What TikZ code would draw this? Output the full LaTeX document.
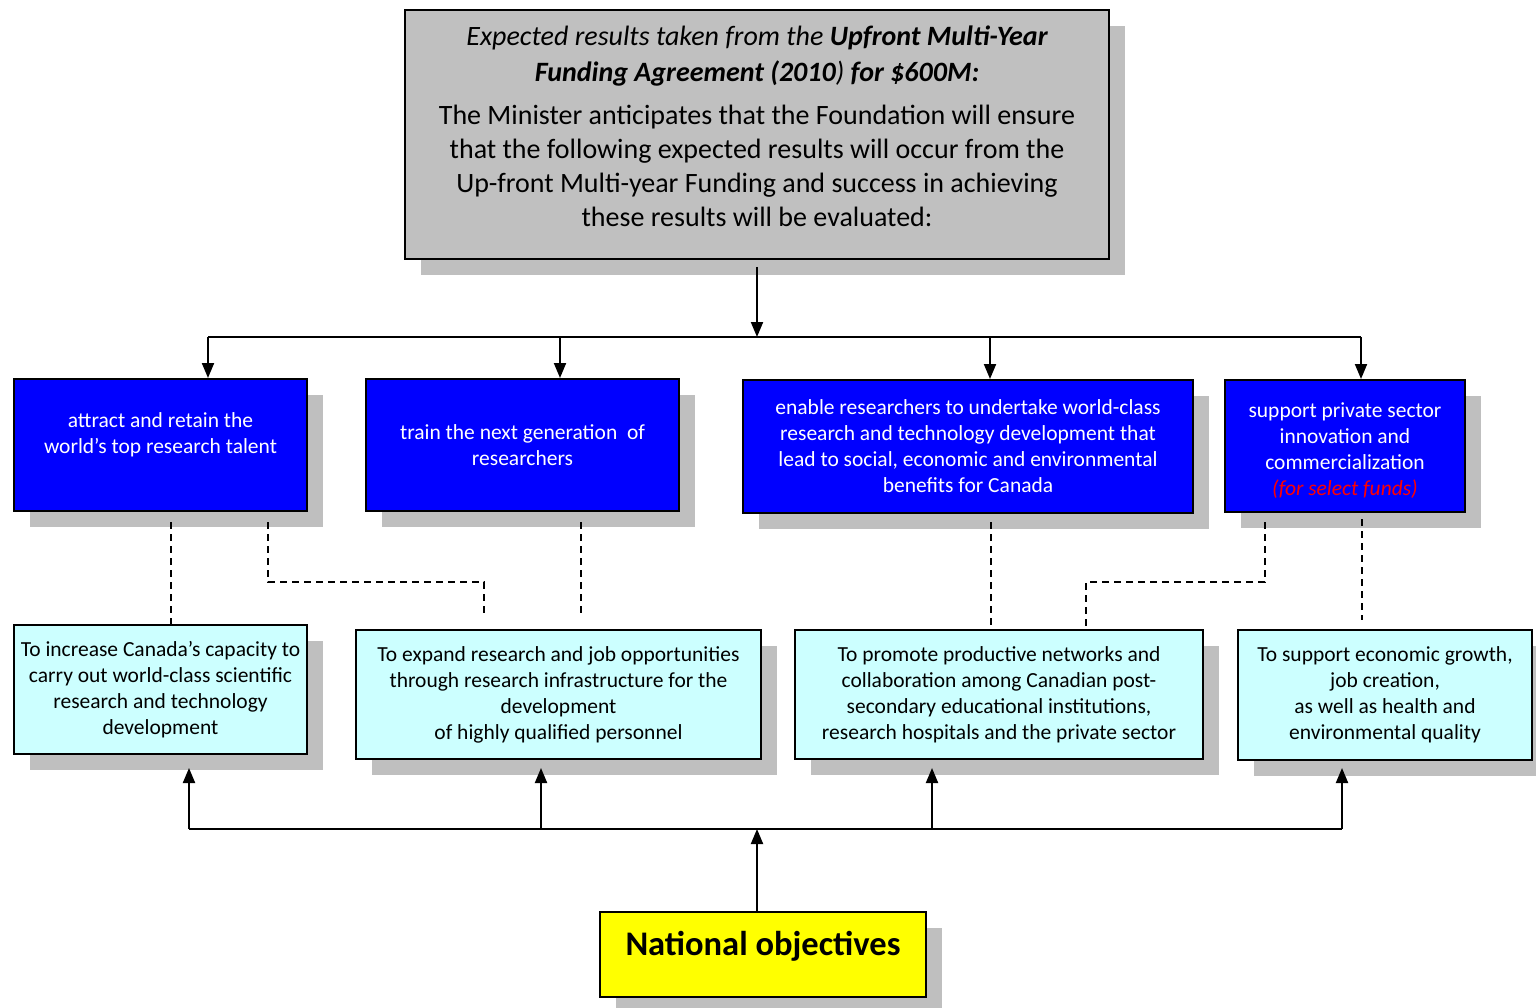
\documentclass[tikz,border=0pt]{standalone}
\usepackage{fontspec}
\setmainfont{Carlito}
\usetikzlibrary{arrows.meta,shadows}

\definecolor{boxgray}{HTML}{C0C0C0}
\definecolor{shadowgray}{HTML}{BFBFBF}
\definecolor{goalblue}{HTML}{0000FF}
\definecolor{aimcyan}{HTML}{CCFFFF}
\definecolor{natyellow}{HTML}{FFFF00}

\newcommand{\lowdepth}[1]{\rule[-#1]{0pt}{#1}}

\tikzset{
  box/.style={draw=black, line width=2pt, anchor=north west, align=center, inner sep=0pt,
    drop shadow={shadow xshift=16pt, shadow yshift=-16pt, fill=shadowgray, opacity=1}},
  topbox/.style={box, fill=boxgray, font=\fontsize{28}{34}\selectfont},
  goalbox/.style={box, fill=goalblue, text=white, font=\fontsize{21.5}{26}\selectfont},
  aimbox/.style={box, fill=aimcyan, font=\fontsize{21.5}{26}\selectfont},
  natbox/.style={box, fill=natyellow, font=\fontsize{34.5}{40}\selectfont\bfseries},
  feed/.style={line width=2pt, -{Triangle[length=15pt,width=12pt]}},
  bus/.style={line width=2pt},
  link/.style={line width=1.5pt, dash pattern=on 7pt off 5pt},
}

\begin{document}
\begin{tikzpicture}[x=1pt, y=-1pt]
    \useasboundingbox (0,0) rectangle (1536,1008);

    % Agreement box
    \node[topbox, minimum width=704, minimum height=249] (top) at (404,9)
      {{\itshape Expected results taken from the \textbf{Upfront Multi-Year}}\\[2pt]
       {\itshape\textbf{Funding Agreement (2010}) \textbf{for \$600M:}}\\[9pt]
       The Minister anticipates that the Foundation will ensure\\
       that the following expected results will occur from the\\
       Up-front Multi-year Funding and success in achieving\\
       these results will be evaluated:\lowdepth{16pt}};

    % Expected results
    \node[goalbox, minimum width=293, minimum height=132] (b1) at (13,378)
      {attract and retain the\\ world's top research talent\lowdepth{24pt}};
    \node[goalbox, minimum width=313, minimum height=132] (b2) at (365,378)
      {train the next generation~ of\\ researchers};
    \node[goalbox, minimum width=450, minimum height=133] (b3) at (742,379)
      {enable researchers to undertake world-class\\ research and technology development that\\
       lead to social, economic and environmental\\ benefits for Canada};
    \node[goalbox, minimum width=240, minimum height=132] (b4) at (1224,379)
      {\rule{0pt}{23pt}support private sector\\ innovation and\\ commercialization\\
       \textcolor{red}{\itshape (for select funds)}};

    % National objectives
    \node[aimbox, minimum width=293, minimum height=129] (c1) at (13,624)
      {To increase Canada's capacity to\\ carry out world-class scientific\\
       research and technology\\ development};
    \node[aimbox, minimum width=405, minimum height=129] (c2) at (355,629)
      {To expand research and job opportunities\\ through research infrastructure for the\\
       development\\ of highly qualified personnel};
    \node[aimbox, minimum width=408, minimum height=129] (c3) at (794,629)
      {To promote productive networks and\\ collaboration among Canadian post-\\
       secondary educational institutions,\\ research hospitals and the private sector};
    \node[aimbox, minimum width=294, minimum height=130] (c4) at (1237,629)
      {To support economic growth,\\ job creation,\\ as well as health and\\
       environmental quality};

    \node[natbox, minimum width=326, minimum height=85] (nat) at (599,911)
      {National objectives\lowdepth{22pt}};

    % Top distribution
    \coordinate (t1) at (208,337);
    \coordinate (t2) at (560,337);
    \coordinate (t3) at (990,337);
    \coordinate (t4) at (1361,337);
    \draw[feed] ([yshift=-7pt]top.south) -- (top.south |- t1);
    \draw[bus] (t1) -- (t4);
    \draw[feed] (t1) -- (t1 |- b1.north);
    \draw[feed] (t2) -- (t2 |- b2.north);
    \draw[feed] (t3) -- (t3 |- b3.north);
    \draw[feed] (t4) -- (t4 |- b4.north);

    % Bottom distribution
    \coordinate (ntip) at (0,768);
    \coordinate (n1) at (189,829);
    \coordinate (n2) at (541,829);
    \coordinate (n3) at (932,829);
    \coordinate (n4) at (1342,829);
    \draw[feed] ([xshift=-6pt]nat.north) -- ([xshift=-6pt]nat.north |- n1);
    \draw[bus] (n1) -- (n4);
    \draw[feed] (n1) -- (n1 |- ntip);
    \draw[feed] (n2) -- (n2 |- ntip);
    \draw[feed] (n3) -- (n3 |- ntip);
    \draw[feed] (n4) -- (n4 |- ntip);

    % Dashed links
    \draw[link] ([xshift=10.5pt,yshift=-10pt]b1.south) -- ([xshift=10.5pt]c1.north);
    \draw[link] ([xshift=107.5pt,yshift=-10pt]b1.south) |- ([xshift=-74.5pt,yshift=47pt]c2.north)
      -- ([xshift=-74.5pt,yshift=12pt]c2.north);
    \draw[link] ([xshift=58.5pt,yshift=-10pt]b2.south) -- ([xshift=22.5pt,yshift=12pt]c2.north);
    \draw[link] ([xshift=23pt,yshift=-8pt]b3.south) -- ([xshift=-8pt]c3.north);
    \draw[link] ([xshift=-80pt,yshift=-9pt]b4.south) |- ([xshift=87pt,yshift=47pt]c3.north)
      -- ([xshift=87pt]c3.north);
    \draw[link] ([xshift=17pt,yshift=-6pt]b4.south) -- ([xshift=-23pt,yshift=9pt]c4.north);
\end{tikzpicture}
\end{document}
